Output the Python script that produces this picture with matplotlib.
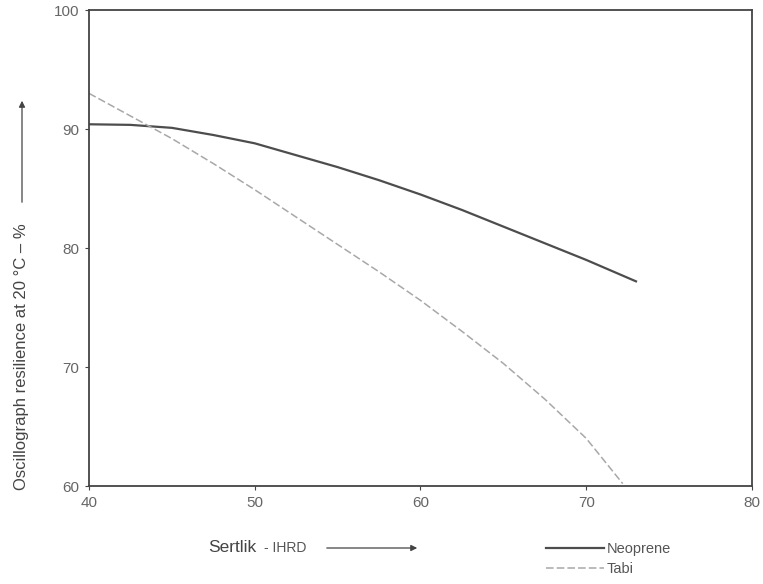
import matplotlib.pyplot as plt
from matplotlib.patches import FancyArrowPatch

# hardness (IRHD) vs oscillograph resilience at 20 C
sertlik = [40, 42.5, 45, 47.5, 50, 52.5, 55, 57.5, 60, 62.5, 65, 67.5, 70, 73]
neoprene = [90.4, 90.35, 90.1, 89.5, 88.8, 87.8, 86.8, 85.7, 84.5, 83.2,
            81.8, 80.4, 79.0, 77.2]
sertlik_tabi = [40, 42.5, 45, 47.5, 50, 52.5, 55, 57.5, 60, 62.5, 65, 67.5,
                70, 72.2]
tabi = [93.0, 91.1, 89.2, 87.1, 84.9, 82.6, 80.3, 78.0, 75.6, 73.0, 70.3,
        67.3, 64.0, 60.2]

x_ticks = [40, 50, 60, 70, 80]
y_ticks = [60, 70, 80, 90, 100]

plt.rcParams['font.family'] = ['Liberation Sans', 'DejaVu Sans']

fig = plt.figure(figsize=(7.63, 5.84), dpi=100)
ax = fig.add_axes([0.1166, 0.1678, 0.869, 0.815])

ax.plot(sertlik, neoprene, color='#4d4d4d', lw=1.6, label='Neoprene')
ax.plot(sertlik_tabi, tabi, color='#a8a8a8', lw=1.1, dashes=(5, 2), label='Tabi')

ax.set_xlim(40, 80)
ax.set_ylim(60, 100)
ax.set_xticks(x_ticks)
ax.set_yticks(y_ticks)
ax.tick_params(direction='out', length=3, width=0.8, colors='#444',
               labelcolor='#666', labelsize=11, pad=4)
for s in ax.spines.values():
    s.set_color('#444')
    s.set_linewidth(1.3)

# y label + arrow
fig.text(22 / 763, 1 - 490 / 584, 'Oscillograph resilience at 20 °C \u2013 %',
         rotation=90, ha='center', va='bottom', fontsize=12, color='#444')
fig.add_artist(FancyArrowPatch(
    (22 / 763, 1 - 205 / 584), (22 / 763, 1 - 98 / 584),
    transform=fig.transFigure, arrowstyle='-|>', mutation_scale=9,
    color='#444', lw=0.9))

# x label + arrow
fig.text(208 / 763, 1 - 548 / 584, 'Sertlik', ha='left', va='center',
         fontsize=12.5, color='#444')
fig.text(264 / 763, 1 - 548 / 584, '- IHRD', ha='left', va='center',
         fontsize=10, color='#555')
fig.add_artist(FancyArrowPatch(
    (324 / 763, 1 - 548 / 584), (420 / 763, 1 - 548 / 584),
    transform=fig.transFigure, arrowstyle='-|>', mutation_scale=9,
    color='#444', lw=0.9))

leg = fig.legend(loc='center left', bbox_to_anchor=(540 / 763, 1 - 559 / 584),
                 frameon=False, fontsize=10.5, handlelength=4.0,
                 handletextpad=0.2, labelspacing=0.45, borderaxespad=0)
for t in leg.get_texts():
    t.set_color('#555')

fig.savefig('out.png', dpi=100)
